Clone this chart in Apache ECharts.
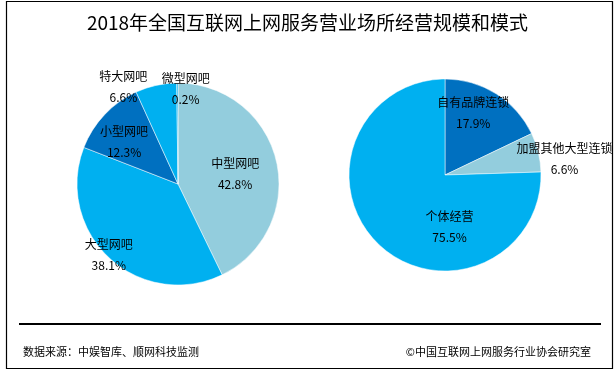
<!DOCTYPE html>
<html>
<head>
<meta charset="utf-8">
<script src="https://cdn.jsdelivr.net/npm/echarts@6/dist/echarts.min.js"></script>
<style>
html,body{margin:0;padding:0;background:#fff;}
#chart{width:615px;height:370px;}
</style>
</head>
<body>
<div id="chart"></div>
<script>
// Data
const titleText = '2018年全国互联网上网服务营业场所经营规模和模式';
const scaleNames = ['中型网吧', '大型网吧', '小型网吧', '特大网吧', '微型网吧'];
const scaleValues = [42.8, 38.1, 12.3, 6.6, 0.2];
const modeNames = ['自有品牌连锁', '加盟其他大型连锁', '个体经营'];
const modeValues = [17.9, 6.6, 75.5];
const sourceText = '数据来源：中娱智库、顺网科技监测';
const copyrightText = '©中国互联网上网服务行业协会研究室';

// Styles / layout
const C_LIGHT = '#93CDDD', C_MID = '#00B0F0', C_DARK = '#0070C0';
const scaleColors = [C_LIGHT, C_MID, C_DARK, C_MID, C_MID];
const modeColors = [C_DARK, C_LIGHT, C_MID];
const scaleLabelShift = [[5, 2], [-33, 32], [-15, -5], [-43, -45], [8, -42]];
const modeLabelShift = [[1, -19], [70, -4], [40, 15]];
const FONT = '"Noto Sans CJK SC", "Microsoft YaHei", sans-serif';

function build(names, values, colors) {
  return names.map((n, i) => ({
    name: n,
    value: values[i],
    itemStyle: { color: colors[i] }
  }));
}

const labelStyle = {
  show: true,
  position: 'inside',
  formatter: '{b}\n{c}%',
  color: '#000',
  fontSize: 12,
  lineHeight: 21,
  fontFamily: FONT
};

const chart = echarts.init(document.getElementById('chart'), null, { renderer: 'canvas' });
chart.setOption({
  backgroundColor: '#fff',
  animation: false,
  title: {
    text: titleText,
    left: 'center',
    top: 8,
    textStyle: { fontSize: 19, fontWeight: 'normal', color: '#000', fontFamily: FONT }
  },
  series: [
    {
      type: 'pie',
      center: [178, 184],
      radius: 101,
      startAngle: 90,
      clockwise: true,
      silent: true,
      itemStyle: { borderColor: '#fff', borderWidth: 0.5 },
      label: labelStyle,
      labelLine: { show: false },
      labelLayout: p => ({ dx: scaleLabelShift[p.dataIndex][0], dy: scaleLabelShift[p.dataIndex][1] }),
      data: build(scaleNames, scaleValues, scaleColors)
    },
    {
      type: 'pie',
      center: [445, 175],
      radius: 96,
      startAngle: 90,
      clockwise: true,
      silent: true,
      itemStyle: { borderColor: '#fff', borderWidth: 0.5 },
      label: labelStyle,
      labelLine: { show: false },
      labelLayout: p => ({ dx: modeLabelShift[p.dataIndex][0], dy: modeLabelShift[p.dataIndex][1] }),
      data: build(modeNames, modeValues, modeColors)
    }
  ],
  graphic: [
    {
      type: 'rect',
      shape: { x: 6.5, y: 1.5, width: 606, height: 367 },
      style: { fill: 'none', stroke: '#000', lineWidth: 1.2 },
      silent: true
    },
    {
      type: 'line',
      shape: { x1: 19, y1: 324, x2: 601, y2: 324 },
      style: { stroke: '#000', lineWidth: 2 },
      silent: true
    },
    {
      type: 'text',
      left: 23,
      top: 346,
      style: { text: sourceText, fill: '#000', fontSize: 11, fontFamily: FONT }
    },
    {
      type: 'text',
      right: 24,
      top: 346,
      style: { text: copyrightText, fill: '#000', fontSize: 11, fontFamily: FONT }
    }
  ]
});
</script>
</body>
</html>
